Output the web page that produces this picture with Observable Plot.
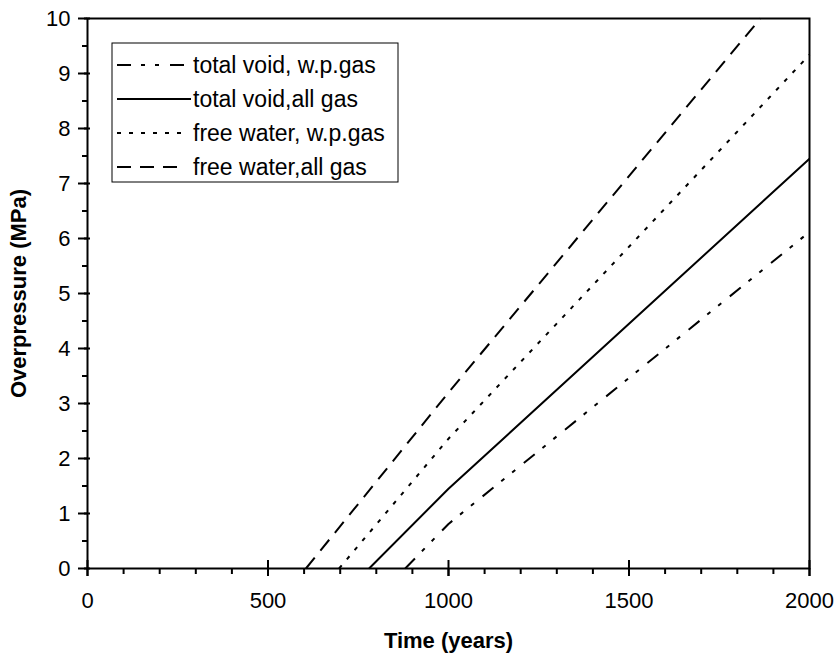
<!DOCTYPE html>
<html>
<head>
<meta charset="utf-8">
<script src="https://cdn.jsdelivr.net/npm/d3@7"></script>
<script src="https://cdn.jsdelivr.net/npm/@observablehq/plot@0.6"></script>
<style>
  body { margin: 0; background: #fff; }
  #chart svg { display: block; }
</style>
</head>
<body>
<div id="chart"></div>
<script>
// Overpressure build-up over time for four gas / void assumptions
const seriesNames = [
  "total void, w.p.gas",
  "total void,all gas",
  "free water, w.p.gas",
  "free water,all gas"
];

const totalVoidWpTime = [880, 1000, 2000];
const totalVoidWpP    = [0, 0.81, 6.12];

const totalVoidAllTime = [780, 1000, 2000];
const totalVoidAllP    = [0, 1.45, 7.45];

const freeWaterWpTime = [697, 1000, 2000];
const freeWaterWpP    = [0, 2.36, 9.34];

const freeWaterAllTime = [605, 1000, 1864];
const freeWaterAllP    = [0, 3.2, 10];

const xMajor = [0, 500, 1000, 1500, 2000];
const xMinor = [100, 200, 300, 400, 600, 700, 800, 900, 1100, 1200, 1300, 1400, 1600, 1700, 1800, 1900];
const yMajor = [0, 1, 2, 3, 4, 5, 6, 7, 8, 9, 10];
const yMinor = [0.5, 1.5, 2.5, 3.5, 4.5, 5.5, 6.5, 7.5, 8.5, 9.5];

const xTitle = "Time (years)";
const yTitle = "Overpressure (MPa)";

// line styles per series, in legend order
const dashes = ["14,10,4,10,4,11", null, "4,8", "14,9"];

const toRows = (ts, ps) => ts.map((t, i) => ({t, p: ps[i]}));
const seriesRows = [
  toRows(totalVoidWpTime, totalVoidWpP),
  toRows(totalVoidAllTime, totalVoidAllP),
  toRows(freeWaterWpTime, freeWaterWpP),
  toRows(freeWaterAllTime, freeWaterAllP)
];

const font = "'Liberation Sans', Arial, Helvetica, sans-serif";

const chart = Plot.plot({
  width: 834,
  height: 654,
  marginLeft: 87,
  marginRight: 25,
  marginTop: 18,
  marginBottom: 86,
  style: {fontFamily: font, fontSize: "22px", color: "#000", background: "#fff"},
  x: {domain: [0, 2000]},
  y: {domain: [0, 10]},
  marks: [
    // minor ticks
    Plot.axisX(xMinor, {tickSize: 6, tickFormat: () => "", strokeWidth: 2, label: null}),
    Plot.axisY(yMinor, {tickSize: 5, tickFormat: () => "", strokeWidth: 2, label: null}),
    // major ticks with labels
    Plot.axisX(xMajor, {tickSize: 8, tickPadding: 16, strokeWidth: 2, label: null, tickFormat: d => String(d)}),
    Plot.axisY(yMajor, {tickSize: 9, tickPadding: 8, strokeWidth: 2, label: null, tickFormat: d => String(d)}),
    // inward part of the major ticks
    Plot.ruleX(xMajor, {x: d => d, y1: 0, y2: 0, insetTop: 8, insetBottom: 8, strokeWidth: 2}),
    Plot.ruleY(yMajor, {y: d => d, x1: 0, x2: 0, insetLeft: 3, insetRight: 3, strokeWidth: 2}),
    // series
    ...seriesRows.map((rows, i) => Plot.line(rows, {
      x: "t", y: "p",
      stroke: "#000",
      strokeWidth: 2,
      strokeLinecap: "butt",
      strokeDasharray: dashes[i]
    })),
    Plot.frame({stroke: "#000", strokeWidth: 2}),
    // axis titles
    Plot.text([xTitle], {text: d => d, frameAnchor: "bottom", dy: 72, lineAnchor: "middle", textAnchor: "middle", fontWeight: "bold", fontSize: 22}),
    Plot.text([yTitle], {text: d => d, frameAnchor: "left", dx: -69, rotate: -90, lineAnchor: "middle", textAnchor: "middle", fontWeight: "bold", fontSize: 22})
  ]
});

document.getElementById("chart").appendChild(chart);

// legend box in the upper-left corner of the plot area
const svg = d3.select(chart);
const legend = svg.append("g")
  .attr("font-family", font)
  .attr("font-size", 23)
  .attr("text-anchor", "start");
legend.append("rect")
  .attr("x", 112).attr("y", 43).attr("width", 286).attr("height", 139)
  .attr("fill", "#fff").attr("stroke", "#000").attr("stroke-width", 1);
seriesNames.forEach((name, i) => {
  const cy = 65 + i * 34;
  legend.append("line")
    .attr("x1", 117).attr("x2", i === 1 ? 191 : 186)
    .attr("y1", cy).attr("y2", cy)
    .attr("stroke", "#000").attr("stroke-width", 2)
    .attr("stroke-dasharray", dashes[i]);
  legend.append("text")
    .attr("x", 193).attr("y", cy).attr("dy", "0.35em")
    .attr("text-anchor", "start")
    .attr("fill", "#000")
    .text(name);
});
</script>
</body>
</html>
